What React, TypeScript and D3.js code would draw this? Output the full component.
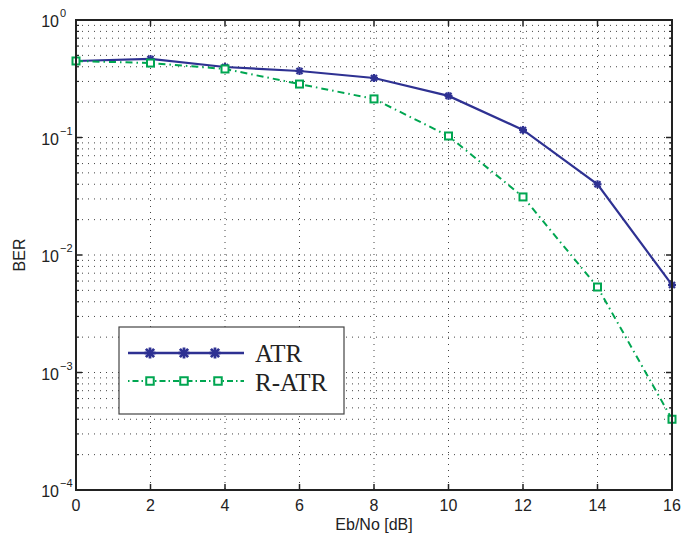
import React from "react";
import * as d3 from "d3";

const snr = [0, 2, 4, 6, 8, 10, 12, 14, 16];
const berATR = [0.448, 0.466, 0.398, 0.368, 0.321, 0.226, 0.116, 0.040, 0.00556];
const berRATR = [0.448, 0.43, 0.383, 0.285, 0.213, 0.103, 0.0312, 0.00534, 0.0004];
const xTicks = [0, 2, 4, 6, 8, 10, 12, 14, 16];
const yExps = [0, -1, -2, -3, -4];
const seriesNames = ["ATR", "R-ATR"];

const W = 684, H = 541;
const L = 76, R = 672, T = 20, B = 490;

export default function App() {
  const x = d3.scaleLinear().domain([0, 16]).range([L, R]);
  const y = d3.scaleLog().domain([1e-4, 1]).range([B, T]);
  const minor: number[] = [];
  for (let e = -4; e < 0; e++) for (let m = 2; m <= 9; m++) minor.push(m * Math.pow(10, e));
  const line = d3.line<number>().x((_, i) => x(snr[i])).y((d) => y(d));
  const navy = "#2E3192";
  const green = "#00A651";
  const gridStyle = { stroke: "#444", strokeWidth: 1, strokeDasharray: "1,5" };
  const star = (cx: number, cy: number, r: number, k: string, w = 2) => (
    <g key={k} stroke={navy} strokeWidth={w}>
      <line x1={cx - r} y1={cy} x2={cx + r} y2={cy} />
      <line x1={cx} y1={cy - r} x2={cx} y2={cy + r} />
      <line x1={cx - r * 0.75} y1={cy - r * 0.75} x2={cx + r * 0.75} y2={cy + r * 0.75} />
      <line x1={cx - r * 0.75} y1={cy + r * 0.75} x2={cx + r * 0.75} y2={cy - r * 0.75} />
    </g>
  );
  const sq = (cx: number, cy: number, s: number, k: string) => (
    <rect key={k} x={cx - s / 2} y={cy - s / 2} width={s} height={s} fill="white" stroke={green} strokeWidth={2} />
  );
  const sans = "'Liberation Sans', Arial, Helvetica, sans-serif";
  const serif = "'Liberation Serif', 'Times New Roman', serif";
  return (
    <svg width={W} height={H} style={{ position: "absolute", left: 0, top: 0 }}>
      <rect x={0} y={0} width={W} height={H} fill="white" />
      {/* grid */}
      {[...minor, 1e-1, 1e-2, 1e-3].map((v, i) => (
        <line key={"hg" + i} x1={L} x2={R} y1={y(v)} y2={y(v)} style={gridStyle} />
      ))}
      {xTicks.slice(1, -1).map((t) => (
        <line key={"vg" + t} x1={x(t)} x2={x(t)} y1={T} y2={B} style={gridStyle} />
      ))}
      {/* ticks */}
      {xTicks.map((t) => (
        <g key={"xt" + t} stroke="#222" strokeWidth={1.5}>
          <line x1={x(t)} x2={x(t)} y1={B} y2={B - 6} />
          <line x1={x(t)} x2={x(t)} y1={T} y2={T + 6} />
        </g>
      ))}
      {minor.map((v, i) => (
        <g key={"ym" + i} stroke="#222" strokeWidth={1.2}>
          <line x1={L} x2={L + 3} y1={y(v)} y2={y(v)} />
          <line x1={R} x2={R - 3} y1={y(v)} y2={y(v)} />
        </g>
      ))}
      {yExps.map((e) => (
        <g key={"yt" + e} stroke="#222" strokeWidth={1.5}>
          <line x1={L} x2={L + 6} y1={y(Math.pow(10, e))} y2={y(Math.pow(10, e))} />
          <line x1={R} x2={R - 6} y1={y(Math.pow(10, e))} y2={y(Math.pow(10, e))} />
        </g>
      ))}
      {/* series */}
      <path d={line(berATR) || ""} fill="none" stroke={navy} strokeWidth={2.2} />
      {berATR.map((v, i) => star(x(snr[i]), y(v), 4, "sa" + i, 2.2))}
      <path d={line(berRATR) || ""} fill="none" stroke={green} strokeWidth={2} strokeDasharray="7,4,1.5,4" />
      {berRATR.map((v, i) => sq(x(snr[i]), y(v), 7, "sr" + i))}
      {/* frame */}
      <rect x={L} y={T} width={R - L} height={B - T} fill="none" stroke="#222" strokeWidth={2} />
      {/* x labels */}
      {xTicks.map((t) => (
        <text key={"xl" + t} x={x(t)} y={511} textAnchor="middle" fontFamily={sans} fontSize={16} fill="#222">
          {t}
        </text>
      ))}
      {yExps.map((e) => (
        <text key={"yl" + e} x={59} y={y(Math.pow(10, e)) + 7} textAnchor="end" fontFamily={sans} fontSize={16} fill="#222">
          10
        </text>
      ))}
      {yExps.map((e) => (
        <text key={"ye" + e} x={60} y={y(Math.pow(10, e)) - 3} textAnchor="start" fontFamily={sans} fontSize={11} fill="#222">
          {e === 0 ? "0" : "\u2212" + Math.abs(e)}
        </text>
      ))}
      <text x={374} y={530} textAnchor="middle" fontFamily={sans} fontSize={16} fill="#222">Eb/No [dB]</text>
      <text transform="translate(25,255) rotate(-90)" textAnchor="middle" fontFamily={sans} fontSize={16} fill="#222">BER</text>
      {/* legend */}
      <rect x={119} y={327} width={225} height={87} fill="white" stroke="#444" strokeWidth={1.2} />
      <line x1={128} x2={244} y1={353} y2={353} stroke={navy} strokeWidth={2.4} />
      {[150, 184, 215].map((cx, i) => star(cx, 353, 5.5, "ls" + i, 2.8))}
      <line x1={128} x2={244} y1={381} y2={381} stroke={green} strokeWidth={2} strokeDasharray="1.5,3,6,3" />
      {[150, 184, 218].map((cx, i) => sq(cx, 381, 7.5, "lq" + i))}
      <text x={255} y={362} fontFamily={serif} fontSize={25} fill="#222">{seriesNames[0]}</text>
      <text x={255} y={391} fontFamily={serif} fontSize={25} fill="#222">{seriesNames[1]}</text>
    </svg>
  );
}
